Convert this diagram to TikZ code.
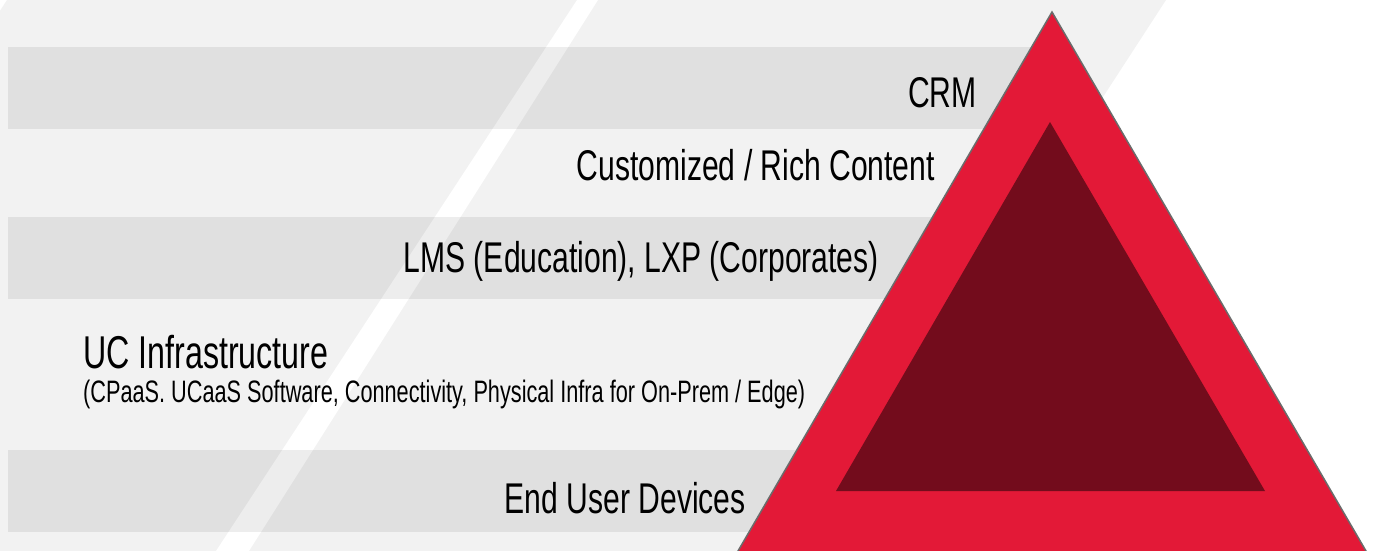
\documentclass[tikz,border=0pt]{standalone}
\usepackage{fontspec}
\setmainfont{Liberation Sans}[FakeStretch=0.7]
\definecolor{bggray}{HTML}{F2F2F2}
\definecolor{trired}{HTML}{E31937}
\definecolor{tridark}{HTML}{730C1C}
\definecolor{edgegray}{HTML}{6B6B6B}
\begin{document}
\begin{tikzpicture}[x=1pt,y=-1pt,
  lbl/.style={inner sep=0pt, font=\fontsize{43}{43}\selectfont, text=black},
  biglbl/.style={inner sep=0pt, font=\fontsize{46}{46}\selectfont, text=black},
  sublbl/.style={inner sep=0pt, font=\fontsize{31}{31}\selectfont, text=black},
  band/.style={fill=black, fill opacity=0.07}]
\useasboundingbox (0,0) rectangle (1373,551);
\begin{scope}
\clip (0,0) rectangle (1373,551);
% background parallelogram
\fill[bggray] (7,0) -- (1166,0) -- (808,551) -- (-351,551) -- cycle;
% white diagonal stripe
\fill[white] (577,0) -- (598,0) -- (249,551) -- (216,551) -- cycle;
% bands
\fill[band] (8,47) rectangle (1050,129);
\fill[band] (8,217) rectangle (1050,299);
\fill[band] (8,450) rectangle (1050,532);
% triangle
\filldraw[fill=trired, draw=edgegray, line width=1.5pt, line join=miter]
  (1052,12) -- (734.5,557) -- (1369.5,557) -- cycle;
\fill[tridark] (1050,122) -- (836,491) -- (1265,491) -- cycle;
\end{scope}
% labels
\node[lbl, anchor=base east] (crm) at (977,107) {CRM};
\node[lbl, anchor=base east] (rich) at (935,180) {Customized / Rich Content};
\node[lbl, anchor=base east] (lms) at (879,272) {LMS (Education), LXP (Corporates)};
\node[biglbl, anchor=base west] (uc) at (83,368) {UC Infrastructure};
\node[sublbl, anchor=base west] (ucsub) at (83,402) {(CPaaS. UCaaS Software, Connectivity, Physical Infra for On-Prem / Edge)};
\node[lbl, anchor=base east] (eud) at (746,513) {End User Devices};
\end{tikzpicture}
\end{document}
